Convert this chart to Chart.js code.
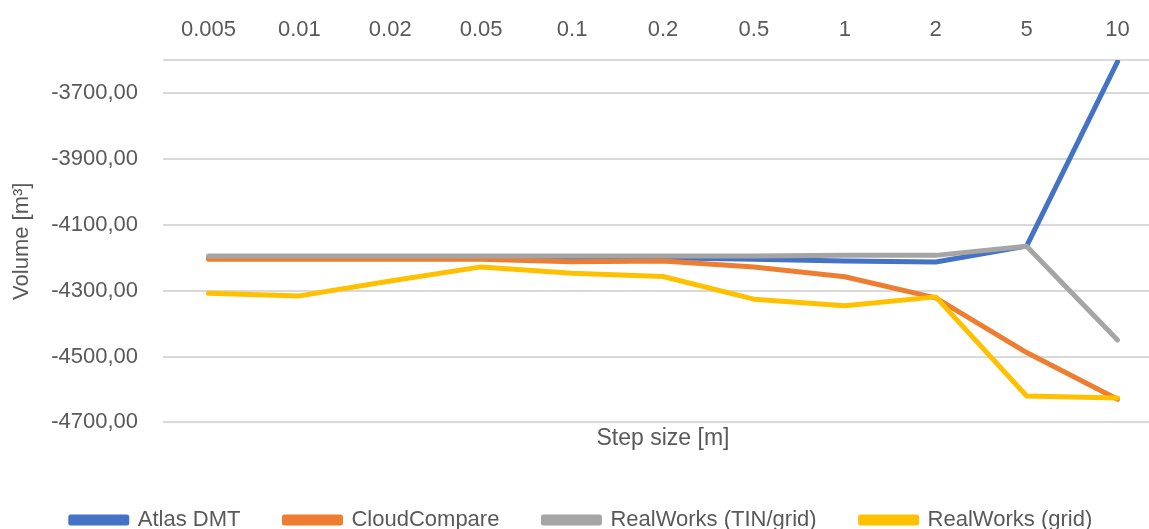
<!DOCTYPE html>
<html>
<head>
<meta charset="utf-8">
<script src="https://cdn.jsdelivr.net/npm/chart.js@4/dist/chart.umd.min.js"></script>
<style>
  html, body { margin: 0; padding: 0; background: #fff; overflow: hidden; }
  #wrap { width: 1163px; height: 541px; }
</style>
</head>
<body>
<div id="wrap"><canvas id="myChart" width="1163" height="541"></canvas></div>
<script>
// step sizes (category axis)
const stepSizes = ['0.005', '0.01', '0.02', '0.05', '0.1', '0.2', '0.5', '1', '2', '5', '10'];

// volumes [m3]
const atlasDmt     = [-4200, -4200, -4200, -4200, -4200, -4200, -4205, -4210, -4213, -4165, -3605];
const cloudCompare = [-4205, -4205, -4205, -4205, -4212, -4210, -4228, -4258, -4322, -4488, -4630];
const rwTinGrid    = [-4195, -4195, -4195, -4195, -4195, -4195, -4195, -4193, -4193, -4165, -4450];
const rwGrid       = [-4308, -4316, -4271, -4228, -4247, -4257, -4326, -4346, -4319, -4620, -4626];

// y axis ticks
const yTicks = [-4700, -4500, -4300, -4100, -3900, -3700, -3600];

const textColor = '#595959';
const font = {family: '"Liberation Sans", Arial, sans-serif', size: 22};

function line(label, data, color, order) {
    return {
        label: label,
        data: data,
        borderColor: color,
        backgroundColor: color,
        borderWidth: 5,
        borderCapStyle: 'round',
        borderJoinStyle: 'round',
        pointRadius: 0,
        tension: 0,
        order: order,
    };
}

new Chart(document.getElementById('myChart'), {
    type: 'line',
    data: {
        labels: stepSizes,
        datasets: [
            line('Atlas DMT', atlasDmt, '#4472C4', 4),
            line('CloudCompare', cloudCompare, '#ED7D31', 3),
            line('RealWorks (TIN/grid)', rwTinGrid, '#A5A5A5', 2),
            line('RealWorks (grid)', rwGrid, '#FFC000', 1),
        ],
    },
    options: {
        responsive: false,
        animation: false,
        devicePixelRatio: 1,
        layout: {padding: 0},
        scales: {
            x: {
                position: 'top',
                offset: true,
                grid: {display: false},
                border: {display: false},
                ticks: {color: textColor, font: font, padding: 9, maxRotation: 0, autoSkip: false},
                afterFit: function(scale) { scale.height = 60; },
            },
            y: {
                min: -4700,
                max: -3600,
                grid: {color: '#d9d9d9', lineWidth: 2, drawTicks: false},
                border: {display: false},
                afterBuildTicks: function(scale) {
                    scale.ticks = yTicks.map(v => ({value: v}));
                },
                ticks: {
                    color: textColor,
                    font: font,
                    padding: 25,
                    callback: function(v) {
                        if (v === -3600) return '';
                        return v.toFixed(2).replace('.', ',');
                    },
                },
                title: {
                    display: true,
                    text: 'Volume [m³]',
                    color: textColor,
                    font: font,
                    padding: {top: 9, bottom: 0},
                },
                afterFit: function(scale) { scale.width = 163; },
            },
        },
        plugins: {
            title: {
                display: true,
                position: 'bottom',
                fullSize: false,
                weight: 500,
                text: 'Step size [m]',
                color: textColor,
                font: {family: font.family, size: 23, weight: 'normal'},
                padding: {top: 2, bottom: 13},
            },
            legend: {
                position: 'bottom',
                labels: {
                    color: textColor,
                    font: font,
                    boxWidth: 56,
                    boxHeight: 6,
                    padding: 44,
                    sort: (a, b) => a.datasetIndex - b.datasetIndex,
                },
            },
            tooltip: {enabled: false},
        },
    },
});
</script>
</body>
</html>
